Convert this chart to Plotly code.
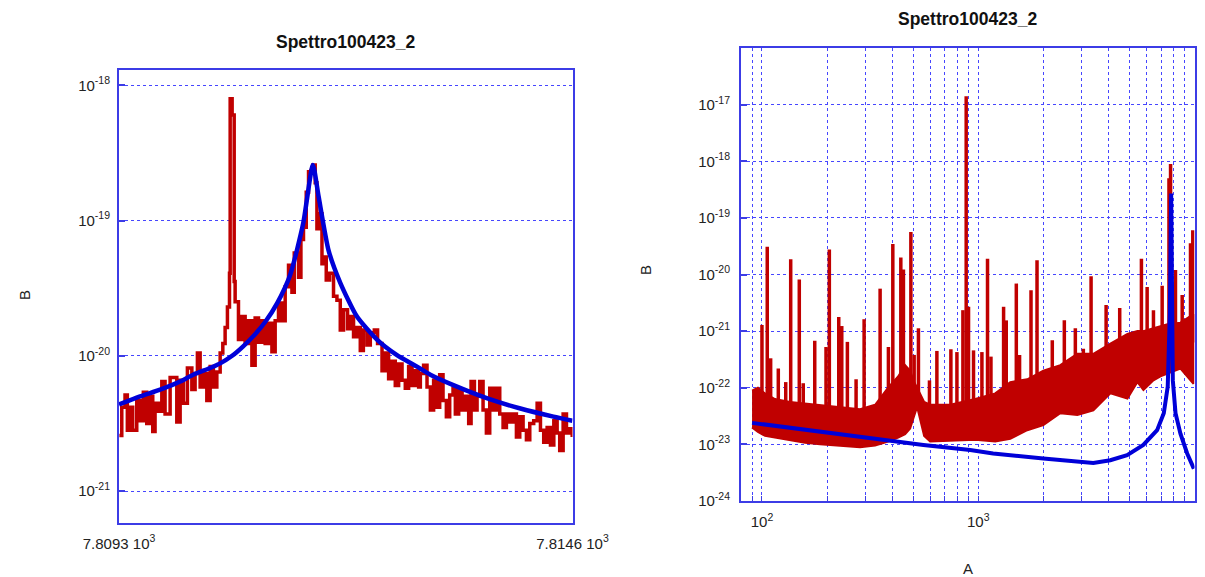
import numpy as np
import plotly.graph_objects as go

# ---------------- Left panel (zoom on the 7.81 kHz resonance) ----------------
left_freq = [
    7809.304, 7809.332, 7809.370, 7809.397, 7809.429, 7809.460, 7809.507, 7809.546, 7809.584, 7809.624,
    7809.663, 7809.694, 7809.721, 7809.760, 7809.800, 7809.838, 7809.897, 7809.935, 7809.975, 7810.014,
    7810.052, 7810.099, 7810.151, 7810.189, 7810.216, 7810.248, 7810.286, 7810.326, 7810.365, 7810.403,
    7810.443, 7810.482, 7810.513, 7810.540, 7810.567, 7810.591, 7810.599, 7810.622, 7810.646, 7810.657,
    7810.696, 7810.736, 7810.774, 7810.813, 7810.853, 7810.891, 7810.930, 7810.970, 7811.008, 7811.047,
    7811.087, 7811.125, 7811.164, 7811.204, 7811.242, 7811.281, 7811.321, 7811.348, 7811.398, 7811.426,
    7811.456, 7811.488, 7811.515, 7811.543, 7811.566, 7811.593, 7811.613, 7811.643, 7811.672, 7811.699,
    7811.722, 7811.761, 7811.807, 7811.847, 7811.886, 7811.924, 7811.971, 7812.003, 7812.041, 7812.081,
    7812.120, 7812.156, 7812.198, 7812.237, 7812.284, 7812.322, 7812.374, 7812.412, 7812.451, 7812.491,
    7812.529, 7812.568, 7812.608, 7812.646, 7812.685, 7812.725, 7812.763, 7812.802, 7812.822, 7812.860,
    7812.900, 7812.939, 7812.977, 7813.017, 7813.048, 7813.087, 7813.126, 7813.165, 7813.204, 7813.231,
    7813.270, 7813.310, 7813.348, 7813.387, 7813.415, 7813.454, 7813.485, 7813.516, 7813.555, 7813.594,
    7813.633, 7813.672, 7813.711, 7813.750, 7813.789, 7813.828, 7813.867, 7813.906, 7813.945, 7813.984,
    7814.023, 7814.062, 7814.101, 7814.147, 7814.187, 7814.226, 7814.264, 7814.304, 7814.343, 7814.382,
    7814.421, 7814.451, 7814.491, 7814.530, 7814.569, 7814.597,
]
# measured spectrum, log10 of B
left_meas_exp = [
    -20.59, -20.38, -20.29, -20.55, -20.38, -20.55, -20.33, -20.48, -20.27, -20.50,
    -20.30, -20.56, -20.35, -20.41, -20.19, -20.43, -20.16, -20.16, -20.49, -20.18,
    -20.35, -20.09, -20.25, -20.13, -19.98, -20.23, -20.13, -20.33, -20.08, -20.23,
    -20.12, -19.98, -19.91, -19.79, -19.64, -19.39, -18.10, -18.22, -19.45, -19.60,
    -19.88, -19.71, -19.91, -19.74, -20.07, -19.72, -19.90, -19.74, -19.91, -19.76,
    -19.97, -19.74, -19.61, -19.74, -19.49, -19.33, -19.53, -19.24, -19.42, -19.14,
    -19.05, -18.79, -18.64, -18.63, -18.59, -18.72, -19.06, -18.95, -19.32, -19.27,
    -19.44, -19.39, -19.56, -19.59, -19.81, -19.66, -19.80, -19.71, -19.86, -19.79,
    -19.96, -19.81, -19.92, -19.83, -19.81, -19.91, -20.11, -19.98, -20.17, -20.04,
    -20.22, -20.06, -20.18, -20.24, -20.08, -20.22, -20.11, -20.23, -20.13, -20.07,
    -20.23, -20.40, -20.18, -20.38, -20.14, -20.33, -20.45, -20.29, -20.24, -20.43,
    -20.25, -20.40, -20.30, -20.50, -20.19, -20.40, -20.30, -20.19, -20.40, -20.57,
    -20.24, -20.40, -20.24, -20.43, -20.53, -20.43, -20.49, -20.43, -20.60, -20.45,
    -20.55, -20.62, -20.50, -20.48, -20.35, -20.55, -20.64, -20.53, -20.66, -20.48,
    -20.57, -20.70, -20.43, -20.57, -20.54, -20.60,
]
left_fit_freq = [
    7809.300, 7809.546, 7809.780, 7810.014, 7810.166, 7810.365, 7810.482, 7810.622, 7810.751, 7810.891,
    7811.008, 7811.149, 7811.301, 7811.453, 7811.566, 7811.632, 7811.749, 7811.886, 7812.081, 7812.315,
    7812.549, 7812.783, 7812.939, 7813.208, 7813.606, 7813.992, 7814.378, 7814.600,
]
left_fit_exp = [
    -20.36, -20.30, -20.25, -20.19, -20.14, -20.09, -20.056, -20.00, -19.93, -19.84,
    -19.75, -19.61, -19.40, -19.02, -18.59, -18.82, -19.22, -19.46, -19.71, -19.88,
    -19.995, -20.08, -20.14, -20.217, -20.315, -20.39, -20.45, -20.48,
]

# ---------------- Right panel (full spectrum, log-log) ----------------
band_freq = [90, 95.8, 103.3, 114.8, 134.8, 158.2, 185.6, 229.7, 284.2, 333.6,
             383.1, 426.3, 459.2, 484.4, 505.5, 521.9, 538.9, 562.3, 599.5, 742.0,
             968.5, 1198.5, 1406.5, 1686, 2000, 2396, 2873, 3407, 4085, 4897,
             5447, 5806, 6460, 6960, 7499, 8614, 9895]
band_low_exp = [-22.70, -22.78, -22.85, -22.88, -22.92, -22.97, -23.00, -23.03, -23.05, -23.02,
                -22.95, -22.88, -22.82, -22.72, -22.50, -22.34, -22.55, -22.85, -22.95, -22.93,
                -22.92, -22.95, -22.90, -22.75, -22.66, -22.45, -22.48, -22.40, -22.10, -22.19,
                -21.90, -22.04, -21.87, -21.80, -21.75, -21.66, -21.93]
band_high_exp = [-22.05, -22.00, -22.10, -22.20, -22.25, -22.28, -22.30, -22.35, -22.38, -22.30,
                 -22.00, -21.80, -21.60, -21.70, -21.90, -22.00, -22.10, -22.25, -22.30, -22.30,
                 -22.20, -22.10, -21.90, -21.85, -21.70, -21.60, -21.40, -21.40, -21.22, -21.05,
                 -21.00, -21.00, -20.95, -20.92, -20.88, -20.85, -20.70]

spike_freq = [100, 105.8, 109.7, 119.0, 128.8, 135.8, 148.8, 155.2, 175.4, 197.8,
              204.9, 226.5, 233.9, 248.3, 272.4, 296.7, 351.8, 384.3, 402.8, 438.6,
              451.0, 488.1, 505.5, 529.1, 595.0, 643.9, 747.4, 797.0, 849.5, 879.7,
              901.9, 951.1, 1040, 1104, 1145, 1310, 1348, 1500, 1553, 1754,
              1870, 2200, 2501, 2812, 3062, 3325, 3516, 3902, 4510, 4943,
              5683, 6040, 6460, 7087, 7620, 7750, 8166, 8772, 9583, 9820]
spike_top_exp = [-20.89, -19.51, -21.48, -21.66, -21.90, -19.73, -20.09, -21.92, -21.17, -21.28,
                 -19.56, -20.75, -20.91, -21.19, -21.85, -20.79, -20.25, -21.28, -19.46, -19.70,
                 -19.91, -19.25, -21.42, -20.95, -21.87, -21.35, -21.32, -21.37, -20.63, -16.85,
                 -20.57, -21.34, -21.37, -19.72, -21.45, -20.57, -20.81, -20.16, -21.42, -20.28,
                 -19.75, -21.16, -20.81, -20.95, -21.31, -20.03, -21.42, -20.54, -20.59, -21.10,
                 -19.72, -20.22, -20.63, -20.20, -18.30, -18.05, -19.92, -20.36, -19.45, -19.22]
spike_base_exp = [-22.3, -22.3, -22.3, -22.4, -22.4, -22.4, -22.5, -22.5, -22.5, -22.5,
                  -22.5, -22.6, -22.6, -22.6, -22.6, -22.6, -22.5, -22.4, -22.3, -22.2,
                  -22.2, -22.2, -22.3, -22.4, -22.6, -22.6, -22.6, -22.6, -22.5, -22.5,
                  -22.5, -22.5, -22.4, -22.4, -22.4, -22.3, -22.3, -22.2, -22.2, -22.1,
                  -22.1, -22.0, -21.9, -21.8, -21.8, -21.7, -21.7, -21.6, -21.5, -21.5,
                  -21.4, -21.4, -21.4, -21.3, -21.3, -21.3, -21.2, -21.2, -21.2, -21.2]

right_fit_freq = [90, 161, 327, 558, 918, 1172, 2000, 3405, 4080, 4880,
                  5800, 6715, 7210, 7520, 7690, 7800, 7940, 8170, 8610, 9250, 9930]
right_fit_exp = [-22.62, -22.75, -22.90, -23.01, -23.10, -23.16, -23.25, -23.33, -23.28, -23.19,
                 -23.01, -22.75, -22.45, -21.98, -20.69, -18.57, -21.87, -22.45, -22.81, -23.16, -23.43]

left_ytick_exp = [-18, -19, -20, -21]
right_ytick_exp = [-17, -18, -19, -20, -21, -22, -23, -24]
right_xmajor = [100, 1000, 10000]
right_xmajor_text = ["10<sup>2</sup>", "10<sup>3</sup>", "10<sup>4</sup>"]
right_xminor = [90, 200, 300, 400, 500, 600, 700, 800, 900,
                2000, 3000, 4000, 5000, 6000, 7000, 8000, 9000]

TITLE = "Spettro100423_2"
RED = "#c00000"
BLUE = "#0000d8"
FRAME = "#3c3ce6"
GRID = "#4646ff"
FONT = "Liberation Sans, Arial, sans-serif"

def p10(v):
    return list(10.0 ** np.asarray(v, dtype=float))

fig = go.Figure()

# left panel traces
fig.add_trace(go.Scatter(x=left_freq, y=p10(left_meas_exp), mode="lines",
                         line=dict(color=RED, width=3.5, shape="hv"),
                         xaxis="x", yaxis="y", showlegend=False))
fig.add_trace(go.Scatter(x=left_fit_freq, y=p10(left_fit_exp), mode="lines",
                         line=dict(color=BLUE, width=4.5, shape="spline", smoothing=0.6),
                         xaxis="x", yaxis="y", showlegend=False))

# right panel: dense noise band
bx = list(band_freq) + list(band_freq[::-1])
by = p10(band_high_exp) + p10(band_low_exp[::-1])
fig.add_trace(go.Scatter(x=bx, y=by, mode="lines", fill="toself", fillcolor=RED,
                         line=dict(color=RED, width=2),
                         xaxis="x2", yaxis="y2", showlegend=False))
# spikes
sx, sy = [], []
for f, b, t in zip(spike_freq, p10(spike_base_exp), p10(spike_top_exp)):
    sx += [f, f, None]
    sy += [b, t, None]
fig.add_trace(go.Scatter(x=sx, y=sy, mode="lines", line=dict(color=RED, width=3.5),
                         xaxis="x2", yaxis="y2", showlegend=False))
fig.add_trace(go.Scatter(x=right_fit_freq, y=p10(right_fit_exp), mode="lines",
                         line=dict(color=BLUE, width=4),
                         xaxis="x2", yaxis="y2", showlegend=False))

W, H = 1205, 577
def dx(a, b):
    return [a / W, b / W]
def dy(top, bottom):
    return [1 - bottom / H, 1 - top / H]

tickfont = dict(family=FONT, size=15, color="#222222")
common = dict(showline=True, mirror=True, linecolor=FRAME, linewidth=2, zeroline=False,
              tickfont=tickfont, automargin=False)
grid = dict(showgrid=True, gridcolor=GRID, griddash="dot", gridwidth=1)

fig.update_layout(
    width=W, height=H, margin=dict(l=0, r=0, t=0, b=0, autoexpand=False),
    paper_bgcolor="white", plot_bgcolor="white",
    font=dict(family=FONT),
    xaxis=dict(domain=dx(119, 572.5), range=[7809.2995, 7814.6005], anchor="y",
               tickvals=[7809.3, 7814.6],
               ticktext=["7.8093 10<sup>3</sup>", "7.8146 10<sup>3</sup>"],
               ticks="", showgrid=False, ticklabelstandoff=6, **common),
    yaxis=dict(domain=dy(70, 522.7), type="log", range=[-21.234, -17.887], anchor="x",
               tickvals=p10(left_ytick_exp),
               ticktext=["10<sup>%d</sup>" % e for e in left_ytick_exp],
               ticks="inside", ticklen=6, tickcolor=FRAME, tickwidth=2,
               ticklabelstandoff=4, **grid, **common),
    xaxis2=dict(domain=dx(741, 1194.5), type="log", range=[np.log10(80), 4.0], anchor="y2",
                tickvals=right_xmajor, ticktext=right_xmajor_text,
                ticks="inside", ticklen=5, tickcolor=FRAME, tickwidth=1,
                minor=dict(tickvals=right_xminor, ticks="inside", ticklen=5,
                           tickcolor=FRAME, tickwidth=1, **grid),
                ticklabelstandoff=6, **grid, **common),
    yaxis2=dict(domain=dy(48, 501), type="log", range=[-24, -16], anchor="x2",
                tickvals=p10(right_ytick_exp),
                ticktext=["10<sup>%d</sup>" % e for e in right_ytick_exp],
                ticks="inside", ticklen=6, tickcolor=FRAME, tickwidth=2,
                ticklabelstandoff=6, **grid, **common),
)

ann_font = dict(family=FONT, size=15, color="#222222")
def label(text, px, py, size_font, angle=0):
    fig.add_annotation(text=text, x=px / W, y=1 - py / H, xref="paper", yref="paper",
                       xanchor="center", yanchor="middle", showarrow=False,
                       textangle=angle, font=size_font)

title_font = dict(family=FONT, size=17.5, color="#111111")
label("<b>%s</b>" % TITLE, 345, 42, title_font)
label("<b>%s</b>" % TITLE, 967, 19, title_font)
label("B", 24, 295, ann_font, -90)
label("B", 645, 270, ann_font, -90)
label("A", 968, 568, ann_font)

# remove the default page margin so the figure sits at the window's top-left corner
fig.write_html("out.html", config={"displayModeBar": False},
               post_script="document.body.style.margin='0';document.body.style.overflow='hidden';")
